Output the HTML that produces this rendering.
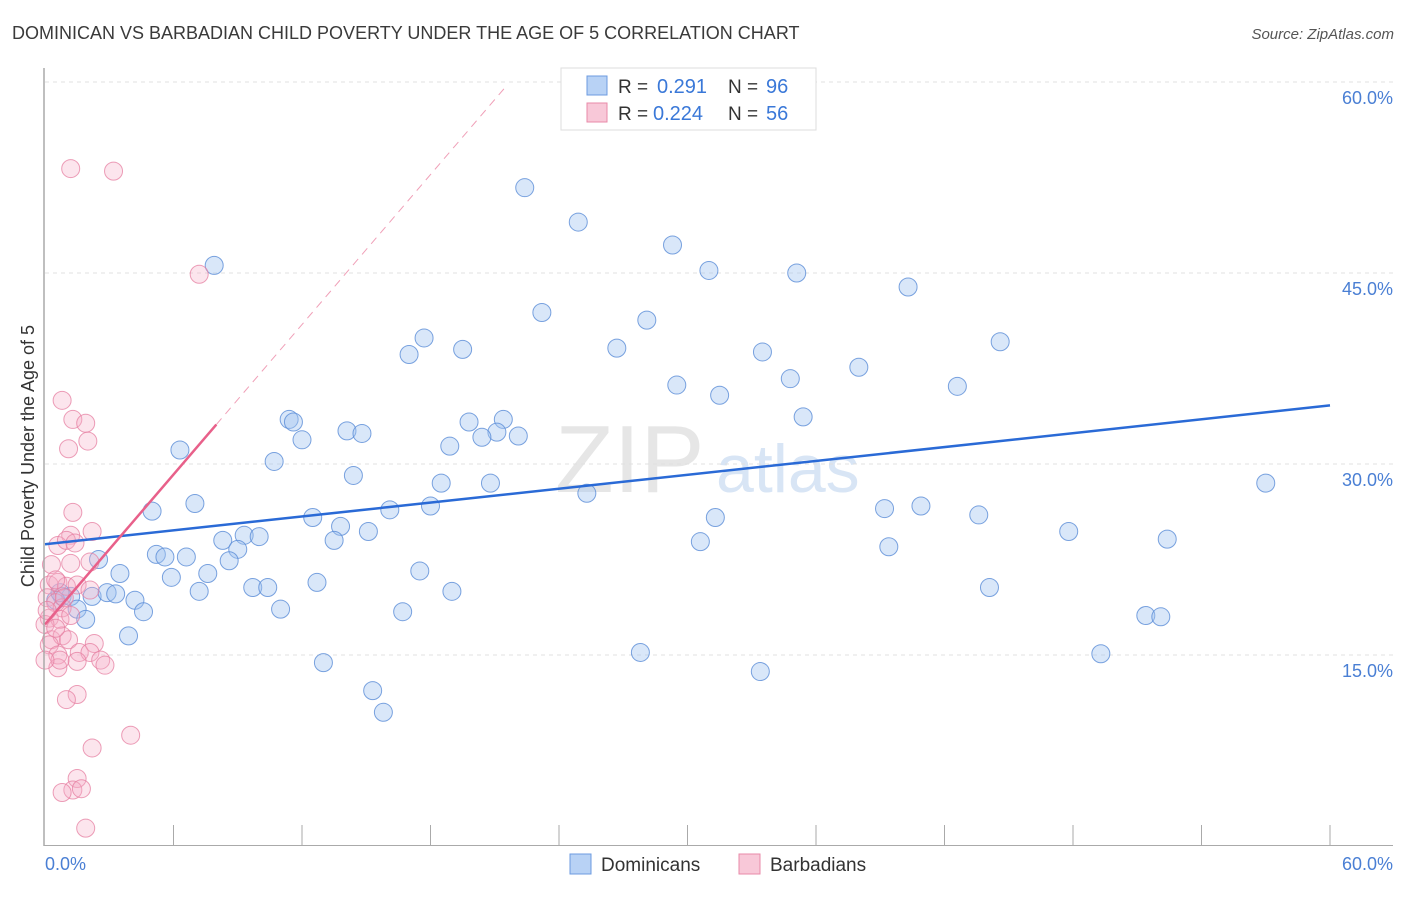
<!DOCTYPE html>
<html><head><meta charset="utf-8"><style>
body{margin:0;background:#fff;font-family:"Liberation Sans",sans-serif}
svg text{font-family:"Liberation Sans",sans-serif}
</style></head><body>
<svg id="c" width="1406" height="892">
<text x="12" y="39" font-size="18" fill="#3a3a3a">DOMINICAN VS BARBADIAN CHILD POVERTY UNDER THE AGE OF 5 CORRELATION CHART</text>
<text x="1394" y="39" font-size="15" fill="#555" font-style="italic" text-anchor="end">Source: ZipAtlas.com</text>
<text x="34" y="456" font-size="18" fill="#333" text-anchor="middle" transform="rotate(-90 34 456)">Child Poverty Under the Age of 5</text>
<text x="555" y="492" font-size="96" fill="#e6e6e6" font-family="Liberation Serif">ZIP</text>
<text x="716" y="492" font-size="68" fill="#d8e5f5">atlas</text>
<g id="grid"></g><g id="pts"></g><g id="lines"></g>
<line x1="44" y1="68" x2="44" y2="846" stroke="#aaa" stroke-width="1.5"/>
<line x1="44" y1="845.5" x2="1393" y2="845.5" stroke="#aaa" stroke-width="1"/>
<text x="45" y="870" font-size="18" fill="#4a7fd4">0.0%</text>
<text x="1393" y="870" font-size="18" fill="#4a7fd4" text-anchor="end">60.0%</text>
<g>
<rect x="561" y="68" width="255" height="62" fill="#fff" stroke="#ddd"/>
<rect x="587" y="76" width="20" height="19" fill="#b8d2f5" stroke="#6c9be0"/>
<rect x="587" y="103" width="20" height="19" fill="#f8c8d8" stroke="#e88aa8"/>
<text x="618" y="93" font-size="19" fill="#333">R =</text>
<text x="657" y="93" font-size="20" fill="#3a78d8">0.291</text>
<text x="728" y="93" font-size="19" fill="#333">N =</text>
<text x="766" y="93" font-size="20" fill="#3a78d8">96</text>
<text x="618" y="120" font-size="19" fill="#333">R =</text>
<text x="653" y="120" font-size="20" fill="#3a78d8">0.224</text>
<text x="728" y="120" font-size="19" fill="#333">N =</text>
<text x="766" y="120" font-size="20" fill="#3a78d8">56</text>
</g>
<g>
<rect x="570" y="854" width="21" height="20" fill="#b8d2f5" stroke="#6c9be0"/>
<text x="601" y="871" font-size="19" fill="#333">Dominicans</text>
<rect x="739" y="854" width="21" height="20" fill="#f8c8d8" stroke="#e88aa8"/>
<text x="770" y="871" font-size="19" fill="#333">Barbadians</text>
</g>
</svg>
<script>
const yTicks=[15,30,45,60];
const xTicks=[6,12,18,24,30,36,42,48,54,60];
const blueX=[7.9,22.4,24.9,29.3,31.0,35.1,40.3,23.2,28.1,17.7,17.0,19.5,26.7,33.5,44.6,29.5,31.5,34.8,38.0,42.6,11.4,11.6,12.0,14.1,14.8,19.8,21.4,21.1,20.4,22.1,18.9,35.4,6.3,10.7,14.4,18.5,20.8,25.3,57.0,7.0,5.0,12.5,16.1,18.0,31.3,39.2,40.9,43.6,13.8,9.3,10.0,8.3,13.5,15.1,30.6,39.4,47.8,52.4,2.5,5.2,5.6,6.6,9.0,8.6,3.5,5.9,7.6,17.5,12.7,9.7,10.4,2.2,2.9,3.3,4.2,7.2,19.0,44.1,0.8,1.2,1.5,1.9,4.6,11.0,16.7,51.4,52.1,3.9,13.0,27.8,49.3,33.4,15.3,15.8,0.5,0.7];
const blueY=[45.6,51.7,49.0,47.2,45.2,45.0,43.9,41.9,41.3,39.9,38.6,39.0,39.1,38.8,39.6,36.2,35.4,36.7,37.6,36.1,33.5,33.3,31.9,32.6,32.4,33.3,33.5,32.5,32.1,32.2,31.4,33.7,31.1,30.2,29.1,28.5,28.5,27.7,28.5,26.9,26.3,25.8,26.4,26.7,25.8,26.5,26.7,26.0,25.1,24.4,24.3,24.0,24.0,24.7,23.9,23.5,24.7,24.1,22.5,22.9,22.7,22.7,23.3,22.4,21.4,21.1,21.4,21.6,20.7,20.3,20.3,19.6,19.9,19.8,19.3,20.0,20.0,20.3,19.6,19.6,18.6,17.8,18.4,18.6,18.4,18.1,18.0,16.5,14.4,15.2,15.1,13.7,12.2,10.5,19.3,19.9];
const pinkX=[1.2,3.2,7.2,0.8,1.3,1.9,2.0,1.1,1.3,1.2,2.2,0.6,1.0,1.4,0.3,1.2,2.1,0.2,0.6,1.0,1.5,2.1,0.1,0.5,0.8,0.2,0.7,1.2,0.0,0.3,0.8,1.1,0.2,0.6,1.6,2.3,2.1,2.6,2.8,1.5,0.6,0.7,1.5,2.2,4.0,1.5,1.3,0.8,1.7,1.9,0.5,0.1,0.5,0.9,0.0,1.0];
const pinkY=[53.2,53.0,44.9,35.0,33.5,33.2,31.8,31.2,26.2,24.4,24.7,23.6,24.0,23.8,22.1,22.2,22.3,20.5,20.7,20.4,20.5,20.1,19.5,19.1,18.7,17.9,17.8,18.1,17.4,16.2,16.5,16.2,15.8,15.0,15.2,15.9,15.2,14.6,14.2,14.5,14.0,14.6,11.9,7.7,8.7,5.3,4.4,4.2,4.5,1.4,20.9,18.5,17.1,19.5,14.6,11.5];
const blueTrend=[23.7,34.6];
const pinkTrend=[17.4,33.1,59.8];
const pinkTrendX=[0,8.0,21.6];
const X=v=>45+v*(1330-45)/60;
const Y=v=>846-v*(846-82)/60;
const NS='http://www.w3.org/2000/svg';
function mk(t,a,p){const e=document.createElementNS(NS,t);for(const k in a)e.setAttribute(k,a[k]);p.appendChild(e);return e;}
const grid=document.getElementById('grid');
yTicks.forEach(t=>{
 const l=mk('line',{x1:45,x2:1393,y1:Y(t),y2:Y(t),stroke:'#e0e0e0','stroke-dasharray':'4,4'},grid);
 
 
 const tx=mk('text',{x:1393,y:Y(t)+22,'font-size':18,fill:'#4a7fd4','text-anchor':'end'},grid);
 tx.textContent=t.toFixed(1)+'%';
 
 
});
xTicks.forEach(t=>{
 const l=mk('line',{x1:X(t),x2:X(t),y1:825,y2:846,stroke:'#aaa'},grid);
 
 
});
const pts=document.getElementById('pts');
blueX.forEach((x,i)=>{
 const c=mk('circle',{cx:X(x),cy:Y(blueY[i]),r:9,fill:'rgba(160,196,240,0.4)',stroke:'rgba(90,140,215,0.8)','stroke-width':1},pts);
 
 
});
pinkX.forEach((x,i)=>{
 const c=mk('circle',{cx:X(x),cy:Y(pinkY[i]),r:9,fill:'rgba(245,175,198,0.32)',stroke:'rgba(230,125,160,0.75)','stroke-width':1},pts);
 
 
});
const lines=document.getElementById('lines');
const bl=mk('line',{x1:X(0),y1:Y(blueTrend[0]),x2:X(60),y2:Y(blueTrend[1]),stroke:'#2a6ad6','stroke-width':2.5},lines);


const pl=mk('line',{x1:X(pinkTrendX[0]),y1:Y(pinkTrend[0]),x2:X(pinkTrendX[1]),y2:Y(pinkTrend[1]),stroke:'#e8608a','stroke-width':2.5},lines);


const pd=mk('line',{x1:X(pinkTrendX[1]),y1:Y(pinkTrend[1]),x2:X(pinkTrendX[2]),y2:Y(pinkTrend[2]),stroke:'#f0a0b8','stroke-width':1,'stroke-dasharray':'8,6'},lines);


</script>
</body></html>
